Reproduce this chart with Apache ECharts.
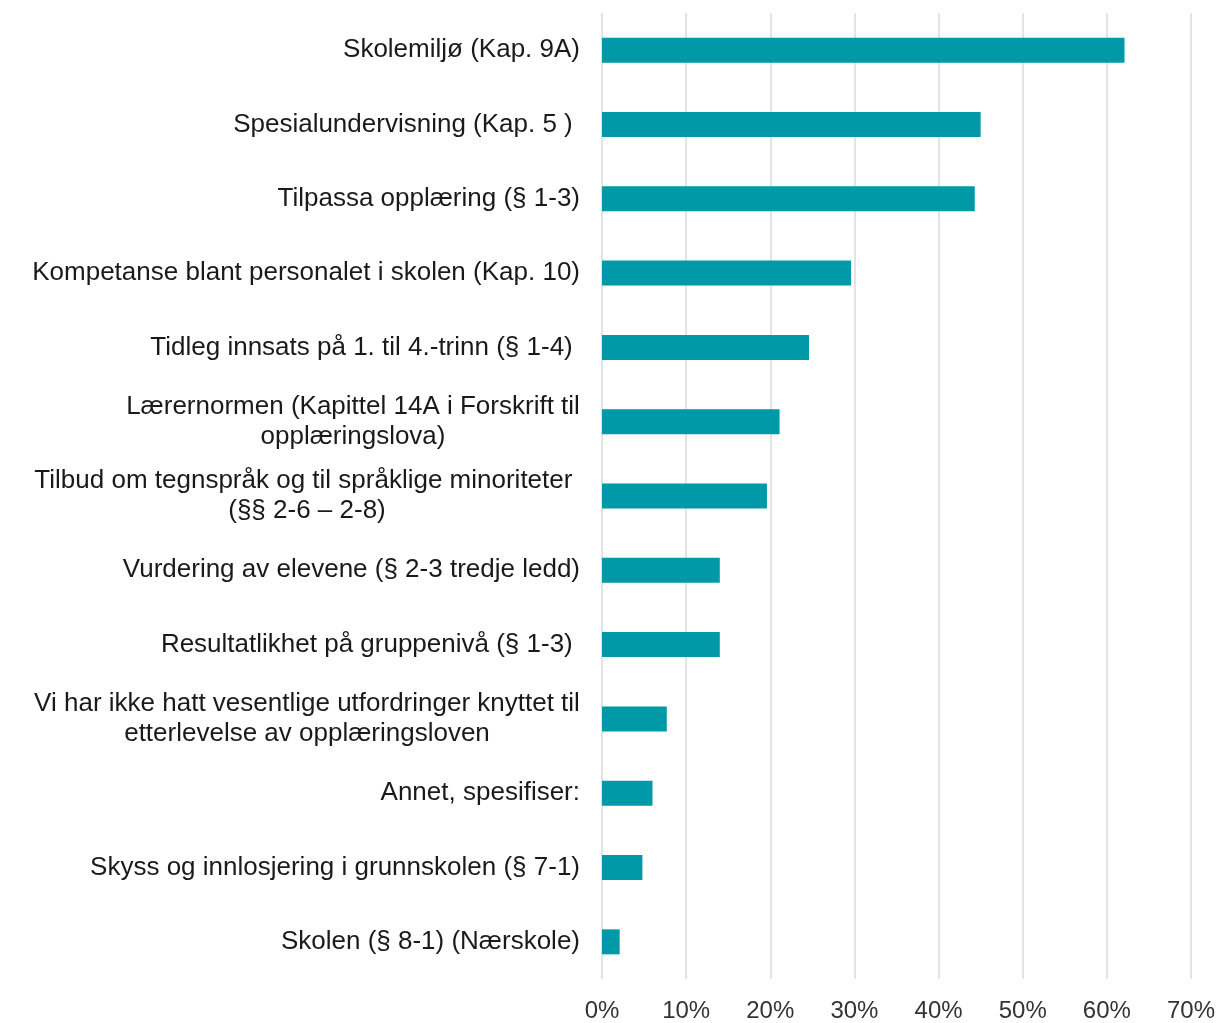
<!DOCTYPE html>
<html>
<head>
<meta charset="utf-8">
<style>
  html, body { margin: 0; padding: 0; background: #fff; }
  #chart { width: 1221px; height: 1023px; }
</style>
<script src="https://cdn.jsdelivr.net/npm/echarts@6/dist/echarts.min.js"></script>
</head>
<body>
<div id="chart"></div>
<script>
const categories = [
    'Skolemiljø (Kap. 9A)',
    'Spesialundervisning (Kap. 5 ) ',
    'Tilpassa opplæring (§ 1-3)',
    'Kompetanse blant personalet i skolen (Kap. 10)',
    'Tidleg innsats på 1. til 4.-trinn (§ 1-4) ',
    'Lærernormen (Kapittel 14A i Forskrift til\nopplæringslova)',
    'Tilbud om tegnspråk og til språklige minoriteter \n(§§ 2-6 – 2-8)',
    'Vurdering av elevene (§ 2-3 tredje ledd)',
    'Resultatlikhet på gruppenivå (§ 1-3) ',
    'Vi har ikke hatt vesentlige utfordringer knyttet til\netterlevelse av opplæringsloven',
    'Annet, spesifiser:',
    'Skyss og innlosjering i grunnskolen (§ 7-1)',
    'Skolen (§ 8-1) (Nærskole)',
]
const values = [62.1, 45.0, 44.3, 29.6, 24.6, 21.1, 19.6, 14.0, 14.0, 7.7, 6.0, 4.8, 2.1]
const xTicks = [0, 10, 20, 30, 40, 50, 60, 70]

const fontFamily = '"Liberation Sans", Arial, sans-serif'
const labelSize = 26

// measure widest line so two-line labels get centred lines
const ctx = document.createElement('canvas').getContext('2d')
ctx.font = labelSize + 'px ' + fontFamily
const rich = {}
categories.forEach((c, i) => {
    if (c.includes('\n')) {
        const w = Math.max(...c.split('\n').map(l => ctx.measureText(l).width))
        rich['c' + i] = { width: Math.ceil(w), align: 'center', lineHeight: 30 }
    }
})

const myChart = echarts.init(document.getElementById('chart'))
const option = {
    backgroundColor: '#fff',
    animation: false,
    grid: {
        left: 602,
        right: 30,
        top: 13,
        bottom: 43,
        containLabel: false
    },
    xAxis: {
        type: 'value',
        min: xTicks[0],
        max: xTicks[xTicks.length - 1],
        interval: 10,
        axisLine: { show: false },
        axisTick: { show: false },
        axisLabel: {
            formatter: '{value}%',
            color: '#333',
            fontSize: 24,
            fontFamily: fontFamily,
            margin: 20
        },
        splitLine: {
            show: true,
            lineStyle: { color: '#e3e3e3', width: 2 }
        }
    },
    yAxis: {
        type: 'category',
        inverse: true,
        data: categories,
        axisLine: { show: false },
        axisTick: { show: false },
        axisLabel: {
            interval: 0,
            color: '#1a1a1a',
            fontSize: labelSize,
            fontFamily: fontFamily,
            lineHeight: 30,
            margin: 22,
            formatter: function (value, index) {
                if (value.includes('\n')) {
                    return value.split('\n').map(l => '{c' + index + '|' + l + '}').join('\n')
                }
                return value
            },
            rich: rich
        }
    },
    series: [
        {
            type: 'bar',
            data: values,
            barWidth: 25,
            itemStyle: { color: '#0099a8' }
        }
    ]
}

option && myChart.setOption(option)
</script>
</body>
</html>
